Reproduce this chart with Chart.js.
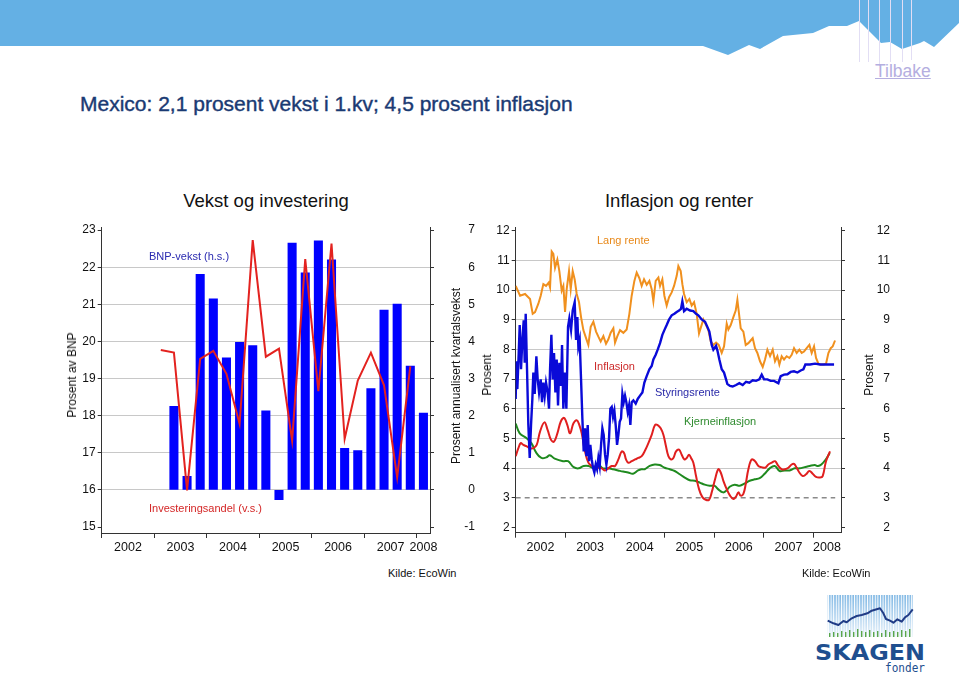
<!DOCTYPE html>
<html lang="no">
<head>
<meta charset="utf-8">
<title>Mexico: vekst og inflasjon</title>
<script src="https://cdn.jsdelivr.net/npm/chart.js@4.4.1/dist/chart.umd.min.js"></script>
<style>
    html, body { margin: 0; padding: 0; background: #fff; }
    body { width: 959px; height: 675px; position: relative; overflow: hidden;
           font-family: 'Liberation Sans', Arial, sans-serif; }
    .abs { position: absolute; white-space: nowrap; line-height: 1; }
    .rot { position: absolute; white-space: nowrap; line-height: 1; font-size: 12px; color: #111;
           transform: translate(-50%, -50%) rotate(-90deg); }
    .ctitle { position: absolute; white-space: nowrap; line-height: 1; font-size: 18.5px; color: #111;
              transform: translate(-50%, -50%); }
    canvas { position: absolute; }
</style>
</head>
<body>

<svg width="959" height="80" style="position:absolute;left:0;top:0">
    <polygon fill="#64b0e4" points="0,0 959,0 959,23 934,47 924,41 920,43 902,49 890,42 881,43 859,21 847,26 829,26 813,33 783,36 760,49 749,45 728,55 703,46 0,46"/>
    <g stroke="#e2def4" stroke-width="1">
        <line x1="859.5" y1="0" x2="859.5" y2="62"/>
        <line x1="868.5" y1="0" x2="868.5" y2="62"/>
        <line x1="879.5" y1="0" x2="879.5" y2="66"/>
        <line x1="890.5" y1="0" x2="890.5" y2="62"/>
        <line x1="902.5" y1="0" x2="902.5" y2="62"/>
        <line x1="911.5" y1="0" x2="911.5" y2="60"/>
    </g>
</svg>
<div class="abs" style="left:875px;top:63px;font-size:17.5px;color:#b4aee0;text-decoration:underline;">Tilbake</div>

<div class="abs" style="left:80px;top:93px;font-size:21px;color:#1a3a73;-webkit-text-stroke:0.4px #1a3a73;">Mexico: 2,1 prosent vekst i 1.kv; 4,5 prosent inflasjon</div>

<div class="ctitle" style="left:266px;top:201px;">Vekst og investering</div>
<div class="ctitle" style="left:679px;top:201px;">Inflasjon og renter</div>

<canvas id="vekstChart" width="420" height="345" style="left:55px;top:215px;"></canvas>
<canvas id="renteChart" width="420" height="345" style="left:470px;top:215px;"></canvas>

<div class="rot" style="left:72px;top:375px;">Prosent av BNP</div>
<div class="rot" style="left:456px;top:376px;">Prosent annualisert kvartalsvekst</div>
<div class="rot" style="left:487px;top:375px;">Prosent</div>
<div class="rot" style="left:869px;top:375px;">Prosent</div>

<div class="abs" style="left:149px;top:251px;font-size:11px;color:#2a2ab0;">BNP-vekst (h.s.)</div>
<div class="abs" style="left:149px;top:503px;font-size:11px;color:#d42626;">Investeringsandel (v.s.)</div>
<div class="abs" style="left:597px;top:235px;font-size:11px;color:#e8891a;">Lang rente</div>
<div class="abs" style="left:594px;top:361px;font-size:11px;color:#cc2a2a;">Inflasjon</div>
<div class="abs" style="left:655px;top:387px;font-size:11px;color:#2a2aa8;">Styringsrente</div>
<div class="abs" style="left:684px;top:416px;font-size:11px;color:#2e8b2e;">Kjerneinflasjon</div>

<div class="abs" style="left:388px;top:568px;font-size:11px;color:#111;">Kilde: EcoWin</div>
<div class="abs" style="left:802px;top:568px;font-size:11px;color:#111;">Kilde: EcoWin</div>

<svg width="115" height="85" style="position:absolute;left:815px;top:590px">
    <defs>
        <linearGradient id="sky" x1="0" y1="0" x2="0" y2="1">
            <stop offset="0" stop-color="#7fb7e4"/>
            <stop offset="1" stop-color="#e6f1fa"/>
        </linearGradient>
        <pattern id="stripes" width="2.6" height="10" patternUnits="userSpaceOnUse">
            <rect x="0" y="0" width="1" height="10" fill="#ffffff"/>
        </pattern>
    </defs>
    <rect x="12.7" y="5" width="85" height="42" fill="url(#sky)"/>
    <rect x="12.7" y="5" width="85" height="42" fill="url(#stripes)"/>
    <g fill="#5aa64a">
        <rect x="14" y="43" width="1.4" height="4"/><rect x="18" y="42" width="1.4" height="5"/>
        <rect x="22" y="43" width="1.4" height="4"/><rect x="26" y="41" width="1.4" height="6"/>
        <rect x="30" y="42" width="1.4" height="5"/><rect x="34" y="40" width="1.4" height="7"/>
        <rect x="38" y="42" width="1.4" height="5"/><rect x="42" y="39" width="1.4" height="8"/>
        <rect x="46" y="41" width="1.4" height="6"/><rect x="50" y="42" width="1.4" height="5"/>
        <rect x="54" y="40" width="1.4" height="7"/><rect x="58" y="42" width="1.4" height="5"/>
        <rect x="62" y="41" width="1.4" height="6"/><rect x="66" y="43" width="1.4" height="4"/>
        <rect x="70" y="40" width="1.4" height="7"/><rect x="74" y="42" width="1.4" height="5"/>
        <rect x="78" y="41" width="1.4" height="6"/><rect x="82" y="42" width="1.4" height="5"/>
        <rect x="86" y="40" width="1.4" height="7"/><rect x="90" y="41" width="1.4" height="6"/>
        <rect x="94" y="39" width="1.4" height="8"/>
    </g>
    <polyline fill="none" stroke="#213c86" stroke-width="2" stroke-linejoin="round"
        points="12.7,30.7 18.4,33.3 23.4,35 28.4,31 31.7,32.3 36.7,28.3 41.7,26 46.7,25 52.4,23.3 56.7,20.7 61.7,19.3 65,18.3 68.4,23.3 71,29 75,30.7 78.4,32.7 82.4,29.3 86.7,31.7 90,27.3 93.4,25 97.7,19.3"/>
    <text x="0" y="70" font-family="'DejaVu Sans', sans-serif" font-weight="bold" font-size="21"
          fill="#1f4f8f" textLength="110" lengthAdjust="spacingAndGlyphs">SKAGEN</text>
    <text x="70" y="82" font-family="'DejaVu Sans Mono', monospace" font-size="12"
          fill="#1f4f8f" textLength="40" lengthAdjust="spacingAndGlyphs">fonder</text>
</svg>

<script>
// === Data: Vekst og investering (kvartal) ===
var kvartaler = ['2003K1','2003K2','2003K3','2003K4','2004K1','2004K2','2004K3','2004K4',
                 '2005K1','2005K2','2005K3','2005K4','2006K1','2006K2','2006K3','2006K4',
                 '2007K1','2007K2','2007K3','2007K4','2008K1'];
var bnpVekst = [null, 2.25, 0.37, 5.81, 5.15, 3.56, 3.98, 3.89, 2.13, -0.26, 6.65,
                5.85, 6.71, 6.20, 1.12, 1.06, 2.73, 4.85, 5.01, 3.34, 2.07];
var investAndel = [19.77, 19.70, 15.99, 19.53, 19.75, 19.13, 17.78, 22.73, 19.59, 19.81, 17.33,
                   22.22, 18.66, 22.64, 17.38, 18.95, 19.70, 18.82, 16.34, 19.33, null];

var aar = ['2002', '2003', '2004', '2005', '2006', '2007', '2008'];
var venstreTicks = [15, 16, 17, 18, 19, 20, 21, 22, 23];
var hoyreTicks = [-1, 0, 1, 2, 3, 4, 5, 6, 7];
var renteTicks = [2, 3, 4, 5, 6, 7, 8, 9, 10, 11, 12];

// === Data: Inflasjon og renter (måneder etter jan 2002) ===
var langT = [0,1.05,2.26,3.47,4.11,4.68,5.48,6.05,6.69,7.34,7.98,8.31,8.71,9.11,9.52,10.08,10.56,11.13,11.53,11.94,
    12.34,12.9,13.31,13.79,14.27,14.76,15.32,15.81,16.37,17.02,17.58,18.15,18.79,19.44,20.0,20.56,21.21,21.85,22.42,22.98,
    23.63,24.03,24.6,25.24,26.05,26.85,27.5,28.06,28.71,29.27,29.92,30.48,31.05,31.69,32.34,32.9,33.31,33.87,34.52,34.92,
    35.48,35.97,36.53,37.1,37.74,38.31,38.95,39.35,39.92,40.32,40.73,41.37,42.02,42.58,43.15,43.79,44.35,44.84,45.4,46.05,
    46.61,47.18,47.82,48.47,49.11,49.84,50.4,51.05,51.45,52.02,52.66,53.23,53.63,54.03,54.44,55.08,55.65,56.29,56.85,57.34,
    57.9,58.47,59.11,59.76,60.32,60.89,61.53,62.18,62.74,63.31,63.79,64.35,64.92,65.56,66.21,66.77,67.34,67.98,68.63,69.19,
    69.76,70.4,71.05,71.61,72.18,72.66,73.23,73.79,74.44,75.08,75.65,76.21,76.69,77.26];
var langRente = [10.14,9.81,9.87,9.70,9.20,9.26,9.54,9.81,10.20,10.14,10.25,10.09,11.30,11.22,10.75,11.03,10.64,9.98,10.14,9.26,
    10.03,10.64,10.03,10.64,10.36,9.87,9.59,9.09,8.65,8.38,8.15,8.76,8.93,8.60,8.43,8.27,8.45,8.19,8.34,8.56,
    8.71,8.23,8.45,8.65,8.56,8.67,9.20,9.81,10.31,10.59,10.40,10.14,10.36,10.18,10.31,10.03,9.62,10.31,10.42,10.14,
    10.36,9.81,9.48,9.76,9.92,10.14,10.48,10.81,10.64,10.20,9.87,9.59,9.70,9.48,9.59,9.20,8.54,8.76,9.01,8.82,
    8.65,8.27,8.15,8.23,8.15,7.88,8.10,8.87,8.67,8.82,9.09,9.31,9.67,9.20,8.71,8.60,8.15,8.21,8.30,8.38,
    8.04,7.88,7.60,7.41,7.66,7.99,7.77,7.99,7.60,7.77,7.49,7.77,7.66,7.77,7.71,7.82,8.04,7.88,7.99,7.88,
    7.93,8.04,8.15,7.88,8.10,7.71,7.52,7.49,7.49,7.52,7.88,8.04,8.10,8.30];

var styrT = [0,0.16,0.4,0.73,0.97,1.29,1.61,1.94,2.18,2.42,2.74,3.06,3.39,3.71,4.03,4.27,4.6,5.0,5.32,5.65,
    6.05,6.37,6.69,7.02,7.34,7.74,8.06,8.31,8.63,8.95,9.27,9.6,9.92,10.24,10.56,10.97,11.21,11.53,11.85,12.26,
    12.66,12.98,13.39,13.79,14.27,14.6,14.92,15.16,15.48,15.81,16.13,16.45,16.77,17.1,17.42,17.74,18.06,18.39,18.71,19.03,
    19.35,19.68,20.0,20.32,20.65,20.97,21.29,21.61,21.94,22.26,22.58,22.9,23.23,23.55,23.87,24.19,24.52,24.84,25.16,25.48,
    25.81,26.13,26.45,26.77,27.1,27.42,27.74,28.06,28.47,29.03,29.52,30.08,30.65,31.13,31.69,32.34,32.9,33.31,33.87,34.35,
    34.92,35.48,35.97,36.53,37.1,37.74,38.39,38.95,39.52,40.0,40.32,40.73,41.37,42.18,42.98,43.63,44.19,45.0,45.81,46.37,
    46.85,47.42,47.82,48.47,48.79,49.27,49.84,50.4,50.89,51.21,51.85,52.5,53.31,54.11,54.92,55.73,56.53,57.34,58.15,58.95,
    59.52,60.08,60.89,61.69,62.5,63.55,64.11,64.92,65.73,66.53,67.34,68.15,68.95,69.6,70.08,71.21,72.42,73.63,75.24,77.02];
var styringsrente = [6.33,7.60,6.66,7.88,8.82,7.33,8.32,8.98,7.55,9.20,7.33,5.45,4.34,5.45,6.33,7.22,6.50,7.77,6.99,6.55,
    6.99,6.22,6.88,6.44,6.88,6.55,6.0,7.33,8.49,6.99,7.88,6.55,7.66,6.11,7.55,6.77,8.15,6.0,7.22,6.0,
    8.76,9.04,8.65,9.31,9.59,8.32,9.09,8.10,8.32,6.99,5.67,4.56,5.34,4.40,5.45,4.23,4.78,4.29,4.01,3.85,
    4.12,3.96,4.34,4.07,4.78,5.34,5.12,4.45,4.12,4.45,5.01,6.0,6.06,5.72,5.94,5.45,4.78,5.12,5.56,5.67,
    6.50,6.22,6.44,6.22,5.89,6.11,5.45,6.22,6.28,6.17,6.33,6.44,6.55,6.88,7.10,7.33,7.44,7.66,7.82,7.99,
    8.21,8.49,8.65,8.82,9.01,9.15,9.20,9.26,9.31,9.37,9.62,9.29,9.37,9.31,9.29,9.20,9.15,9.01,8.93,8.76,
    8.60,8.15,7.99,8.12,7.97,7.66,7.33,7.22,6.99,6.83,6.77,6.75,6.80,6.86,6.80,6.91,6.88,6.96,6.94,6.99,
    7.15,6.99,6.99,6.94,6.94,6.86,7.10,7.15,7.16,7.24,7.26,7.22,7.29,7.33,7.49,7.49,7.52,7.49,7.49,7.49];

var inflT = [0,0.65,1.21,1.85,2.66,3.47,4.27,5.08,5.89,6.94,7.74,8.55,9.27,10.08,10.89,11.69,12.5,13.15,13.95,14.76,
    15.4,15.97,16.77,17.58,18.39,19.19,20.0,20.81,21.61,22.42,23.23,24.03,24.84,25.65,26.21,26.69,27.26,28.06,28.87,29.68,
    30.48,31.29,32.1,32.9,33.71,34.35,35.08,35.73,36.29,36.94,37.58,38.15,38.79,39.52,40.16,40.81,41.37,41.94,42.42,42.98,
    43.63,44.35,45.16,45.97,46.77,47.42,48.23,49.03,49.6,50.24,51.05,51.85,52.66,53.31,53.87,54.44,55.08,55.65,56.29,57.1,
    57.9,58.71,59.52,60.32,61.13,61.94,62.74,63.55,64.35,65.16,65.97,66.77,67.34,67.98,68.63,69.44,70.24,71.05,71.85,72.66,
    73.63,74.27,75.08,76.05];
var inflasjon = [4.40,4.67,4.84,4.78,4.73,4.67,4.67,4.78,5.23,5.54,5.28,4.95,4.89,5.17,5.56,5.69,5.45,5.17,5.50,5.61,
    5.45,5.17,4.56,4.18,4.07,4.03,4.01,3.99,3.92,3.99,4.07,4.07,4.29,4.56,4.51,4.29,4.18,4.23,4.29,4.34,
    4.40,4.59,4.84,5.12,5.45,5.45,5.34,5.12,4.78,4.40,4.29,4.34,4.56,4.62,4.45,4.29,4.34,4.45,4.34,4.18,
    3.73,3.29,3.02,2.93,2.93,3.18,3.62,3.96,3.85,3.57,3.29,3.07,2.96,3.04,3.18,3.07,3.13,3.46,3.96,4.29,
    4.23,4.07,4.03,4.01,4.12,4.18,4.23,4.07,3.96,3.96,4.01,4.12,4.14,4.01,3.85,3.73,3.79,3.90,3.81,3.70,
    3.68,3.73,4.23,4.56];

var kjerneT = [0,0.97,2.58,3.79,5.0,6.21,7.42,8.23,9.44,11.45,12.66,14.03,15.23,16.45,17.66,18.71,19.92,21.13,22.34,23.55,
    24.76,25.97,27.18,28.39,29.6,30.4,31.21,32.42,33.63,34.84,36.05,37.26,38.47,39.68,40.89,42.1,43.31,44.52,45.73,46.94,
    48.15,48.95,50.16,50.97,51.77,52.98,54.19,55.4,56.61,57.82,59.03,60.24,61.45,62.66,63.87,65.08,66.29,67.5,68.71,69.92,
    71.13,72.34,73.15,73.95,75.16,75.97];
var kjerneinflasjon = [5.50,5.17,5.01,4.84,4.51,4.34,4.36,4.43,4.32,4.23,4.23,4.03,3.99,4.07,4.07,4.01,4.12,3.99,3.99,3.96,
    3.92,3.88,3.85,3.81,3.92,3.96,3.96,4.07,4.12,4.10,4.01,3.96,3.90,3.79,3.68,3.59,3.57,3.51,3.44,3.40,
    3.40,3.29,3.18,3.24,3.37,3.44,3.40,3.48,3.57,3.62,3.66,3.81,3.99,4.07,3.90,3.92,3.92,3.99,3.99,4.03,
    4.07,4.10,4.07,4.12,4.32,4.51];

var inflasjonsmaalT = [0, 77.3];
var inflasjonsmaal = [3, 3];

// === Helpers ===
Chart.defaults.font.family = "'Liberation Sans', Arial, sans-serif";
Chart.defaults.font.size = 12;
Chart.defaults.color = '#222';

function kvartalX(label) {
    var y = parseInt(label.slice(0, 4), 10);
    var k = parseInt(label.slice(5), 10);
    return (y - 2002) * 4 + (k - 1) + 0.5;
}

function kvartalPunkter(values) {
    var pts = [];
    kvartaler.forEach(function(q, i) {
        if (values[i] !== null) pts.push({ x: kvartalX(q), y: values[i] });
    });
    return pts;
}

function par(xs, ys) {
    return xs.map(function(x, i) { return { x: x, y: ys[i] }; });
}

function fixedTicks(values) {
    return function(scale) {
        scale.ticks = values.map(function(v) { return { value: v }; });
    };
}

// year axis: boundary ticks every `step`, labels in the middle of each year
function aarAxis(step, max, lastMid, height) {
    var values = [];
    var labels = {};
    aar.forEach(function(a, i) {
        values.push(i * step);
        var mid = i < aar.length - 1 ? i * step + step / 2 : lastMid;
        values.push(mid);
        labels[mid] = a;
    });
    return {
        type: 'linear', min: 0, max: max, offset: false,
        afterBuildTicks: fixedTicks(values),
        afterFit: function(s) { s.height = height; },
        grid: {
            drawOnChartArea: false, offset: false, tickLength: 5,
            tickColor: function(c) {
                return c.tick && labels[c.tick.value] === undefined ? '#333' : 'rgba(0,0,0,0)';
            }
        },
        border: { color: '#333' },
        ticks: {
            autoSkip: false, maxRotation: 0, minRotation: 0, padding: 2, color: '#111',
            font: { size: 12.5 },
            callback: function(v) { return labels[v] || ''; }
        }
    };
}

function verdiAxis(pos, min, max, ticks, width, gridLo, gridHi, pad) {
    return {
        position: pos, min: min, max: max,
        afterBuildTicks: fixedTicks(ticks),
        afterFit: function(s) { s.width = width; },
        grid: {
            drawOnChartArea: gridHi !== null,
            color: function(c) {
                var v = c.tick ? c.tick.value : null;
                return (gridHi !== null && v > gridLo && v < gridHi) ? '#c8c8c8' : 'rgba(0,0,0,0)';
            },
            tickLength: 4, tickColor: '#333'
        },
        border: { color: '#333' },
        ticks: { padding: pad, color: '#111', crossAlign: pos === 'right' ? 'far' : 'near' }
    };
}

var commonPlugins = { legend: { display: false }, tooltip: { enabled: false }, title: { display: false } };

// === Vekst og investering ===
new Chart(document.getElementById('vekstChart').getContext('2d'), {
    type: 'bar',
    data: {
        datasets: [{
            type: 'line',
            label: 'Investeringsandel (v.s.)',
            data: kvartalPunkter(investAndel),
            yAxisID: 'yL',
            borderColor: '#e3221f',
            borderWidth: 2,
            pointRadius: 0,
            tension: 0,
            order: 0
        }, {
            type: 'bar',
            label: 'BNP-vekst (h.s.)',
            data: kvartalPunkter(bnpVekst),
            yAxisID: 'yR',
            backgroundColor: '#0000ff',
            barThickness: 8.4,
            order: 1
        }]
    },
    options: {
        responsive: false,
        animation: false,
        layout: { padding: { top: 8, left: 0, right: 0, bottom: 0 } },
        plugins: commonPlugins,
        scales: {
            x: aarAxis(4, 25, 24.5, 27),
            yL: verdiAxis('left', 14.84, 23.08, venstreTicks, 46.7, 15, 23, 2),
            yR: verdiAxis('right', -1.16, 7.08, hoyreTicks, 45, null, null, 5)
        }
    }
});

// === Inflasjon og renter ===
function linje(label, xs, ys, color, order, tension) {
    return {
        label: label, data: par(xs, ys), yAxisID: 'yL',
        borderColor: color, borderWidth: 2, pointRadius: 0,
        tension: tension, order: order
    };
}

var maal = linje('Inflasjonsmål', inflasjonsmaalT, inflasjonsmaal, '#8a8a8a', 9, 0);
maal.borderWidth = 1.5;
maal.borderDash = [5, 4];

var styr = linje('Styringsrente', styrT, styringsrente, '#0a0ad8', 2, 0);
styr.borderWidth = 2.4;

new Chart(document.getElementById('renteChart').getContext('2d'), {
    type: 'line',
    data: {
        datasets: [
            maal,
            linje('Lang rente', langT, langRente, '#f0901e', 5, 0),
            linje('Kjerneinflasjon', kjerneT, kjerneinflasjon, '#1f8a1f', 4, 0.4),
            linje('Inflasjon', inflT, inflasjon, '#e01f1f', 3, 0.4),
            styr
        ]
    },
    options: {
        responsive: false,
        animation: false,
        layout: { padding: { top: 7, left: 0, right: 0, bottom: 0 } },
        plugins: commonPlugins,
        scales: {
            x: aarAxis(12, 78.7, 75.3, 27.3),
            yL: verdiAxis('left', 1.82, 12.12, renteTicks, 45.7, 3, 12, 2),
            yR: verdiAxis('right', 1.82, 12.12, renteTicks, 49, null, null, 5)
        }
    }
});
</script>
</body>
</html>
